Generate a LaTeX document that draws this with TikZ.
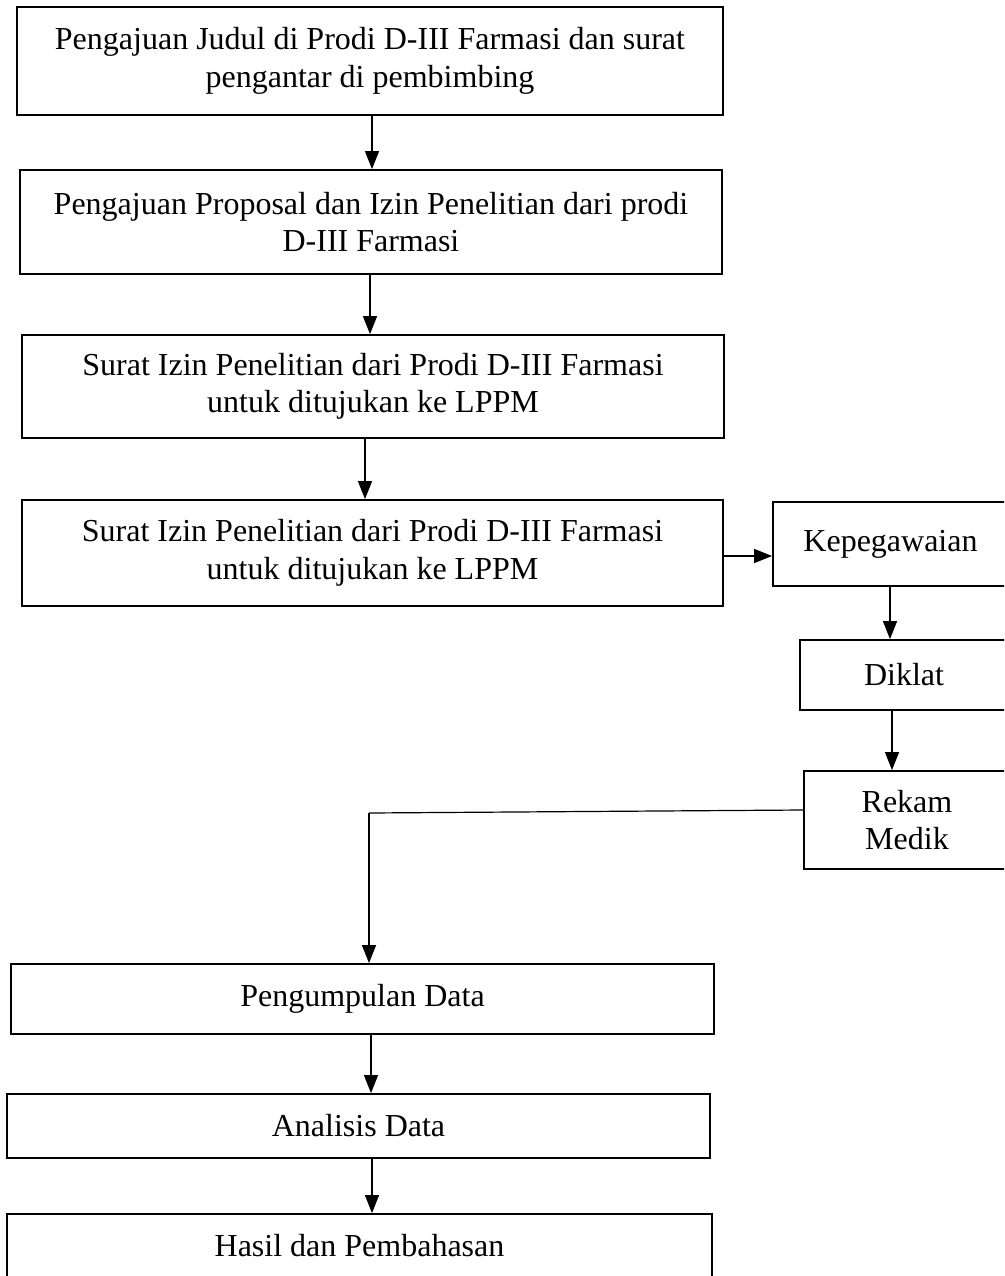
\documentclass[tikz,border=0pt]{standalone}
\usepackage{fontspec}
\setmainfont{Liberation Serif}
\usetikzlibrary{arrows.meta}
\begin{document}
\begin{tikzpicture}[x=1pt,y=-1pt,
  box/.style={draw=black,line width=1.8pt,inner sep=0pt,align=center,
    font=\fontsize{32}{37.5}\selectfont},
  arr/.style={draw=black,line width=1.2pt,-{Triangle[length=18pt,width=14pt]}},
  conn/.style={draw=black,line width=1.2pt}]
\useasboundingbox (0,0) rectangle (1004,1276);
\clip (0,0) rectangle (1004,1276);
\fill[white] (0,0) rectangle (1004,1276);
\node[box,minimum width=706pt,minimum height=108pt] (b1) at (370,61)
  {Pengajuan Judul di Prodi D-III Farmasi dan surat\\pengantar di pembimbing};
\node[box,minimum width=702pt,minimum height=104pt] (b2) at (371,222)
  {Pengajuan Proposal dan Izin Penelitian dari prodi\\D-III Farmasi};
\node[box,minimum width=702pt,minimum height=103pt] (b3) at (373,386.5)
  {Surat Izin Penelitian dari Prodi D-III Farmasi\\untuk ditujukan ke LPPM};
\node[box,minimum width=701pt,minimum height=106pt] (b4) at (372.5,553)
  {Surat Izin Penelitian dari Prodi D-III Farmasi\\untuk ditujukan ke LPPM};
\node[box,minimum width=235pt,minimum height=84pt] (kep) at (890.5,544) {Kepegawaian};
\node[box,minimum width=208pt,minimum height=70pt] (dik) at (904,675) {Diklat};
\node[box,minimum width=206pt,minimum height=98pt] (rek) at (907,820) {Rekam\\Medik};
\node[box,minimum width=703pt,minimum height=70pt] (peng) at (362.5,999) {Pengumpulan Data};
\node[box,minimum width=703pt,minimum height=64pt] (anal) at (358.5,1126) {Analisis Data};
\node[box,minimum width=705pt,minimum height=64pt] (has) at (359.5,1246) {Hasil dan Pembahasan};
\coordinate (bend) at (369,813);
\draw[arr] (372,0 |- b1.south) -- (372,0 |- b2.north);
\draw[arr] (370,0 |- b2.south) -- (370,0 |- b3.north);
\draw[arr] (365,0 |- b3.south) -- (365,0 |- b4.north);
\draw[arr] (b4.east |- 0,556) -- (kep.west |- 0,556);
\draw[arr] (890,0 |- kep.south) -- (890,0 |- dik.north);
\draw[arr] (892,0 |- dik.south) -- (892,0 |- rek.north);
\draw[conn] (rek.west |- 0,810) -- (bend);
\draw[arr] (bend) -- (bend |- peng.north);
\draw[arr] (371,0 |- peng.south) -- (371,0 |- anal.north);
\draw[arr] (372,0 |- anal.south) -- (372,0 |- has.north);
\end{tikzpicture}
\end{document}
